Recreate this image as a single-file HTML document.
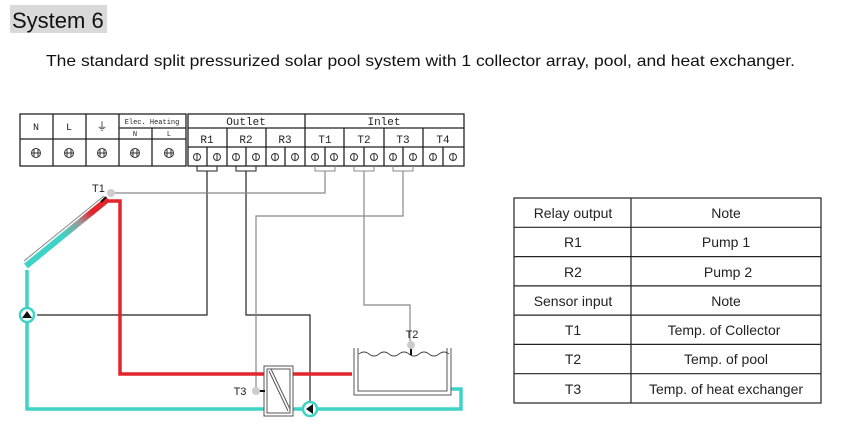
<!DOCTYPE html>
<html><head><meta charset="utf-8"><style>
body{margin:0;background:#fff;width:850px;height:434px;overflow:hidden;font-family:"Liberation Sans",sans-serif}
</style></head><body>
<svg width="850" height="434" xmlns="http://www.w3.org/2000/svg" style="position:absolute;left:0;top:0">
<rect x="10" y="5" width="97" height="28" fill="#d9d9d9"/>
<text x="12" y="28" font-size="22" font-family="Liberation Sans" fill="#111">System 6</text>
<text x="46" y="66" font-size="16" font-family="Liberation Sans" fill="#111" textLength="749" lengthAdjust="spacingAndGlyphs">The standard split pressurized solar pool system with 1 collector array, pool, and heat exchanger.</text>

<g stroke="#222" fill="none" stroke-width="1.3">
<rect x="20" y="114" width="166" height="52"/>
<line x1="20" y1="139" x2="186" y2="139"/>
<line x1="53" y1="114" x2="53" y2="166"/><line x1="86" y1="114" x2="86" y2="166"/>
<line x1="119" y1="114" x2="119" y2="166"/><line x1="152" y1="128" x2="152" y2="166"/>
<line x1="119" y1="128" x2="186" y2="128"/>
<rect x="188" y="114" width="276" height="52"/>
<line x1="188" y1="128" x2="464" y2="128"/><line x1="188" y1="147" x2="464" y2="147"/>
<line x1="305" y1="114" x2="305" y2="166"/>
<line x1="227" y1="128" x2="227" y2="166"/><line x1="266" y1="128" x2="266" y2="166"/>
<line x1="344" y1="128" x2="344" y2="166"/><line x1="384" y1="128" x2="384" y2="166"/><line x1="423" y1="128" x2="423" y2="166"/>
<line x1="207" y1="147" x2="207" y2="166"/><line x1="246" y1="147" x2="246" y2="166"/><line x1="285" y1="147" x2="285" y2="166"/>
<line x1="325" y1="147" x2="325" y2="166"/><line x1="364" y1="147" x2="364" y2="166"/><line x1="403" y1="147" x2="403" y2="166"/><line x1="443" y1="147" x2="443" y2="166"/>
</g>
<g font-family="Liberation Mono" font-size="10" fill="#222" text-anchor="middle">
<text x="36" y="130">N</text><text x="69" y="130">L</text>
<text x="102" y="130" font-size="11">⏚</text>
<text x="152" y="124" font-size="7">Elec. Heating</text>
<text x="135" y="136" font-size="7">N</text><text x="169" y="136" font-size="7">L</text>
<text x="246" y="125" font-size="11">Outlet</text><text x="384" y="125" font-size="11">Inlet</text>
<text x="207" y="143" font-size="11">R1</text><text x="246" y="143" font-size="11">R2</text><text x="285" y="143" font-size="11">R3</text>
<text x="325" y="143" font-size="11">T1</text><text x="364" y="143" font-size="11">T2</text><text x="403" y="143" font-size="11">T3</text><text x="443" y="143" font-size="11">T4</text>
</g>
<g stroke="#333" fill="none" stroke-width="1">
<circle cx="36" cy="153" r="4.5"/><circle cx="69" cy="153" r="4.5"/><circle cx="102" cy="153" r="4.5"/><circle cx="135" cy="153" r="4.5"/><circle cx="169" cy="153" r="4.5"/>
<path d="M34 149v8M38 149v8M31.5 153h9M67 149v8M71 149v8M64.5 153h9M100 149v8M104 149v8M97.5 153h9M133 149v8M137 149v8M130.5 153h9M167 149v8M171 149v8M164.5 153h9"/>
<circle cx="197" cy="157" r="3.5"/><circle cx="217" cy="157" r="3.5"/><circle cx="236" cy="157" r="3.5"/><circle cx="256" cy="157" r="3.5"/><circle cx="275" cy="157" r="3.5"/><circle cx="295" cy="157" r="3.5"/><circle cx="315" cy="157" r="3.5"/><circle cx="334" cy="157" r="3.5"/><circle cx="354" cy="157" r="3.5"/><circle cx="374" cy="157" r="3.5"/><circle cx="393" cy="157" r="3.5"/><circle cx="413" cy="157" r="3.5"/><circle cx="433" cy="157" r="3.5"/><circle cx="453" cy="157" r="3.5"/>
<path d="M197 154v6M217 154v6M236 154v6M256 154v6M275 154v6M295 154v6M315 154v6M334 154v6M354 154v6M374 154v6M393 154v6M413 154v6M433 154v6M453 154v6"/>
</g>
<g stroke="#222" fill="none" stroke-width="1">
<path d="M197 166v5h20v-5"/><path d="M236 166v5h20v-5"/>
<path d="M315 166v5h20v-5" stroke="#888"/><path d="M354 166v5h20v-5" stroke="#888"/><path d="M393 166v5h20v-5" stroke="#888"/>
</g>
<g fill="none" stroke-width="1.2">
<path d="M207 171V315H37" stroke="#222"/>
<path d="M246 171V315H310V402" stroke="#222"/>
<path d="M325 171V193H114" stroke="#888"/>
<path d="M364 171V305H410V343" stroke="#888"/>
<path d="M403 171V216H256V388" stroke="#888"/>
</g>
<g fill="none" stroke-width="3.5">
<path d="M107 201H120V374H264" stroke="#e0262c"/>
<path d="M293 374H352" stroke="#e0262c"/>
<path d="M27 270V409H264" stroke="#3ed3c6"/>
<path d="M293 409H303M317 409H461V389H451" stroke="#3ed3c6"/>
</g>
<defs><linearGradient id="g" x1="0" y1="1" x2="1" y2="0"><stop offset="0.45" stop-color="#3ed3c6"/><stop offset="0.65" stop-color="#999"/><stop offset="0.8" stop-color="#e0262c"/></linearGradient></defs>
<path d="M26 266L108 199" stroke="url(#g)" stroke-width="6"/>
<path d="M24 261L104 196" stroke="#888" stroke-width="1"/>
<line x1="101" y1="202" x2="106" y2="197" stroke="#111" stroke-width="2"/>
<circle cx="111" cy="193" r="4" fill="#ccc"/>
<text x="92" y="192" font-size="11" font-family="Liberation Sans" fill="#222">T1</text>
<circle cx="27" cy="315" r="7" fill="#fff" stroke="#3ed3c6" stroke-width="2.5"/>
<path d="M22 318L27 311L32 318Z" fill="#111"/>
<circle cx="310" cy="409" r="7" fill="#fff" stroke="#3ed3c6" stroke-width="2.5"/>
<path d="M306 409L313 404V414Z" fill="#111"/>
<rect x="264" y="366" width="29" height="50" fill="#fff" stroke="#555" stroke-width="1"/>
<rect x="267" y="369" width="23" height="44" fill="none" stroke="#555" stroke-width="1"/>
<path d="M269 371L288 411M271 369L290 409" stroke="#555" stroke-width="1"/>
<line x1="256" y1="391" x2="265" y2="391" stroke="#111" stroke-width="2"/>
<circle cx="256" cy="391" r="4" fill="#ccc"/>
<text x="240" y="395" font-size="11" font-family="Liberation Sans" fill="#222" text-anchor="middle">T3</text>
<path d="M354 348V395H451V348M358 348V391H447V348" fill="none" stroke="#555" stroke-width="1"/>
<path d="M359 354q5 -4 10 0t10 0t10 0t10 0t10 0t10 0t10 0t10 0t10 0" fill="none" stroke="#444" stroke-width="1"/>
<line x1="411" y1="345" x2="411" y2="355" stroke="#111" stroke-width="2"/>
<circle cx="411" cy="345" r="4" fill="#ccc"/>
<text x="412" y="338" font-size="11" font-family="Liberation Sans" fill="#222" text-anchor="middle">T2</text>
<g stroke="#222" stroke-width="1.2" fill="none">
<rect x="514" y="198" width="307" height="205"/>
<line x1="631" y1="198" x2="631" y2="403"/>
<line x1="514" y1="227.3" x2="821" y2="227.3"/><line x1="514" y1="256.6" x2="821" y2="256.6"/>
<line x1="514" y1="285.9" x2="821" y2="285.9"/><line x1="514" y1="315.1" x2="821" y2="315.1"/>
<line x1="514" y1="344.4" x2="821" y2="344.4"/><line x1="514" y1="373.7" x2="821" y2="373.7"/>
</g>
<g font-family="Liberation Sans" font-size="14" fill="#222" text-anchor="middle">
<text x="573" y="218">Relay output</text><text x="726" y="218">Note</text>
<text x="573" y="247">R1</text><text x="726" y="247">Pump 1</text>
<text x="573" y="277">R2</text><text x="728" y="277">Pump 2</text>
<text x="573" y="306">Sensor input</text><text x="726" y="306">Note</text>
<text x="573" y="335">T1</text><text x="724" y="335">Temp. of Collector</text>
<text x="573" y="364">T2</text><text x="726" y="364">Temp. of pool</text>
<text x="573" y="394">T3</text><text x="726" y="394">Temp. of heat exchanger</text>
</g>
</svg>
</body></html>
